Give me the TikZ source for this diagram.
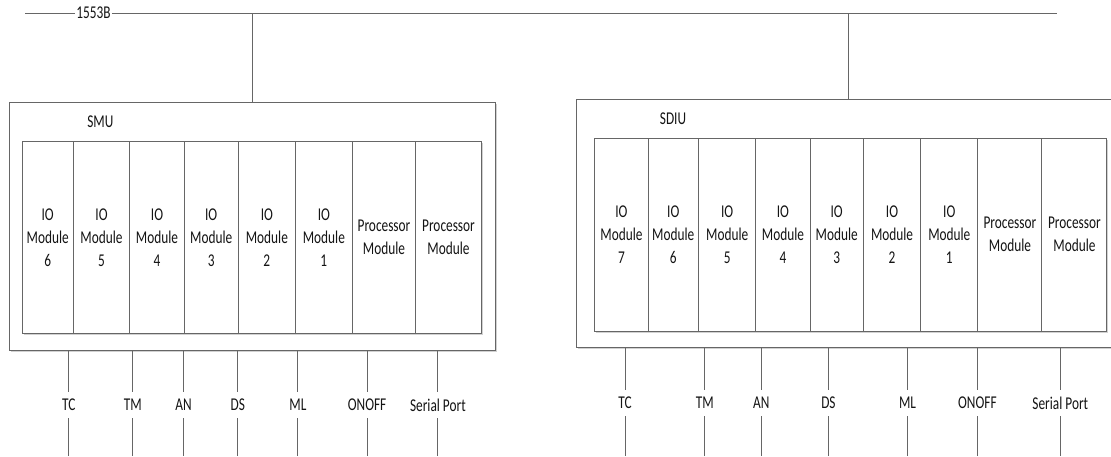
\documentclass[tikz,border=0pt]{standalone}
\usepackage{fontspec}
\setmainfont[FakeStretch=0.74]{Carlito}
\usetikzlibrary{shadows}
\tikzset{
  x=1pt, y=-1pt,
  txt/.style={text=black!92, font=\fontsize{18}{23}\selectfont},
  wire/.style={draw=black!60, line width=1pt},
  shade/.style={drop shadow={shadow xshift=1.5pt, shadow yshift=-1.5pt, fill=black!18, opacity=1}},
  unitbox/.style={draw=black!60, line width=1pt, fill=white, anchor=north west,
    inner sep=0pt, shade},
  modbox/.style={unitbox, txt, align=center},
  sig/.style={txt, inner sep=0pt, minimum height=26pt},
}
\begin{document}
\begin{tikzpicture}
\useasboundingbox (0,0) rectangle (1111,456);
\clip (0,0) rectangle (1111,456);

% 1553B data bus
\coordinate (busW) at (25,13);
\coordinate (busE) at (1057,13);
\node[txt, inner xsep=1pt, inner ysep=0pt] (buslabel) at (93.5,13) {1553B};
\draw[wire] (busW) -- (buslabel) -- (busE);
\coordinate (tapS) at (252,13);
\coordinate (tapD) at (848,13);
\coordinate (floor) at (0,456);

% SMU unit
\node[unitbox, minimum width=486pt, minimum height=248pt] (smu) at (9,102) {};
\node[txt] (smulabel) at (100.3,121.7) {SMU};
\node[modbox, minimum width=51.0pt, minimum height=192pt] (smuM6) at (21.7,141) {IO\\Module\\6};
\node[modbox, minimum width=56.6pt, minimum height=192pt] (smuM5) at (72.7,141) {IO\\Module\\5};
\node[modbox, minimum width=54.4pt, minimum height=192pt] (smuM4) at (129.3,141) {IO\\Module\\4};
\node[modbox, minimum width=54.0pt, minimum height=192pt] (smuM3) at (183.7,141) {IO\\Module\\3};
\node[modbox, minimum width=57.3pt, minimum height=192pt] (smuM2) at (237.7,141) {IO\\Module\\2};
\node[modbox, minimum width=56.7pt, minimum height=192pt] (smuM1) at (295,141) {IO\\Module\\1};
\node[modbox, minimum width=63.6pt, minimum height=192pt] (smuP1) at (351.7,141) {Processor\\Module};
\node[modbox, minimum width=65.4pt, minimum height=192pt] (smuP2) at (415.3,141) {Processor\\Module};
\draw[wire] (tapS) -- (tapS |- smu.north);

% SMU signal lines
\foreach \x/\t [count=\i] in {68.9/TC, 132.9/TM, 183.6/AN, 237.9/DS, 297.9/ML, 367.1/ONOFF, 437.9/Serial Port}{
  \node[sig] (smuS\i) at (\x,405) {\t};
  \draw[wire] (smuS\i) -- (smuS\i |- smu.south);
  \draw[wire] (smuS\i) -- (smuS\i |- floor);
}

% SDIU unit
\node[unitbox, minimum width=600pt, minimum height=248pt] (sdiu) at (576,99.3) {};
\node[txt] (sdiulabel) at (673,118.3) {SDIU};
\node[modbox, minimum width=53.1pt, minimum height=193pt] (sdiuM7) at (594.4,137.7) {IO\\Module\\7};
\node[modbox, minimum width=50.5pt, minimum height=193pt] (sdiuM6) at (647.5,137.7) {IO\\Module\\6};
\node[modbox, minimum width=57.4pt, minimum height=193pt] (sdiuM5) at (698,137.7) {IO\\Module\\5};
\node[modbox, minimum width=54.1pt, minimum height=193pt] (sdiuM4) at (755.4,137.7) {IO\\Module\\4};
\node[modbox, minimum width=53.4pt, minimum height=193pt] (sdiuM3) at (809.5,137.7) {IO\\Module\\3};
\node[modbox, minimum width=57.3pt, minimum height=193pt] (sdiuM2) at (862.9,137.7) {IO\\Module\\2};
\node[modbox, minimum width=57.2pt, minimum height=193pt] (sdiuM1) at (920.2,137.7) {IO\\Module\\1};
\node[modbox, minimum width=64.0pt, minimum height=193pt] (sdiuP1) at (977.4,137.7) {Processor\\Module};
\node[modbox, minimum width=65.0pt, minimum height=193pt] (sdiuP2) at (1041.4,137.7) {Processor\\Module};
\draw[wire] (tapD) -- (tapD |- sdiu.north);

% SDIU signal lines
\foreach \x/\t [count=\i] in {625/TC, 704.8/TM, 761.3/AN, 828.4/DS, 907.5/ML, 977.4/ONOFF, 1060.3/Serial Port}{
  \node[sig] (sdiuS\i) at (\x,403) {\t};
  \draw[wire] (sdiuS\i) -- (sdiuS\i |- sdiu.south);
  \draw[wire] (sdiuS\i) -- (sdiuS\i |- floor);
}
\end{tikzpicture}
\end{document}
